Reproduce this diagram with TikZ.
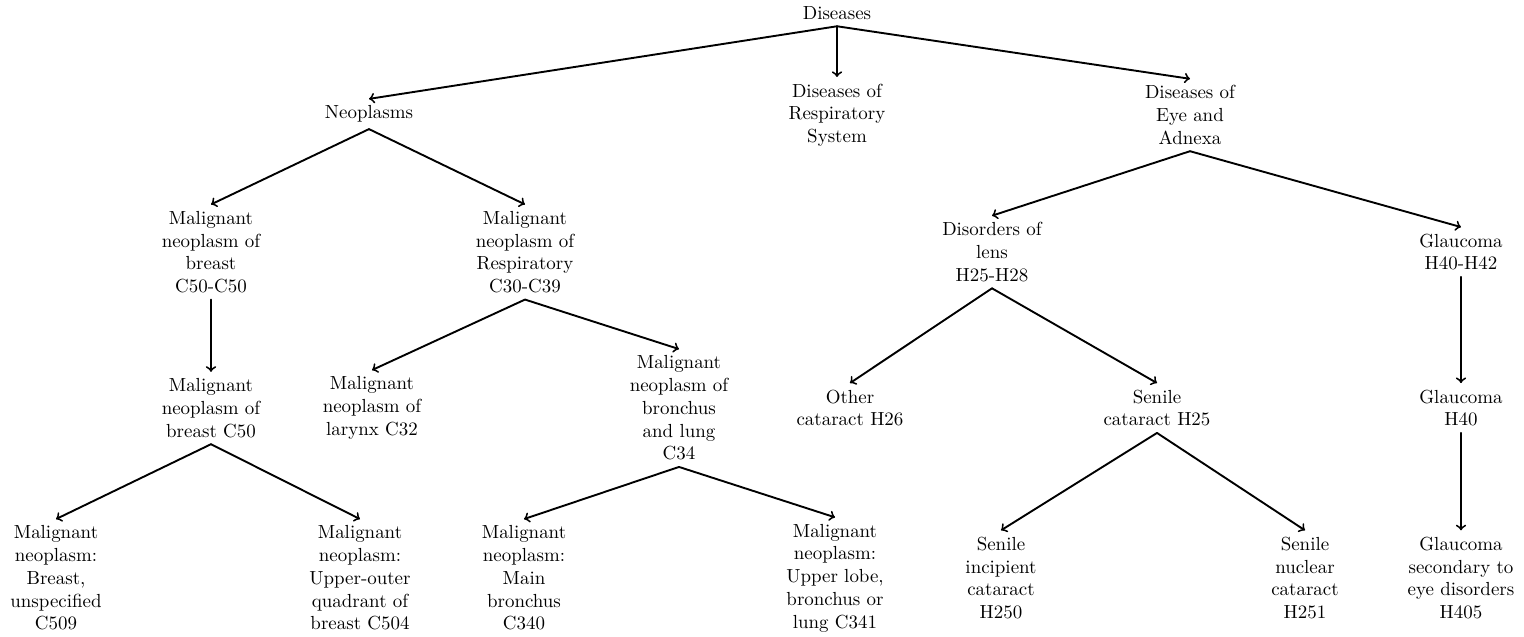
\documentclass[tikz,border=0pt]{standalone}
\begin{document}
\begin{tikzpicture}[x=0.528pt,y=-0.528pt,line join=round,line cap=round,>=to]
		\tikzset{cat/.style={align=center}, link/.style={->,line width=1pt}}
		\useasboundingbox (0,0) rectangle (1524,637);
		% top levels
		\node[cat] (dis) at (837,13) {Diseases};
		\node[cat] (neo) at (369,114) {Neoplasms};
		\node[cat] (resp) at (837,115) {Diseases of\\Respiratory\\System};
		\node[cat] (eye) at (1190,115) {Diseases of\\Eye and\\Adnexa};
		\node[cat] (brst) at (211,252) {Malignant\\neoplasm of\\breast\\C50-C50};
		\node[cat] (rspc) at (525,252) {Malignant\\neoplasm of\\Respiratory\\C30-C39};
		\node[cat] (lens) at (992,252) {Disorders of\\lens\\H25-H28};
		\node[cat] (glc) at (1461,252) {Glaucoma\\H40-H42};
		% third level
		\node[cat] (brstc) at (211,408) {Malignant\\neoplasm of\\breast C50};
		\node[cat] (lar) at (372,408) {Malignant\\neoplasm of\\larynx C32};
		\node[cat] (lung) at (679,408) {Malignant\\neoplasm of\\bronchus\\and lung\\C34};
		\node[cat] (oth) at (850,408) {Other\\cataract H26};
		\node[cat] (sen) at (1157,408) {Senile\\cataract H25};
		\node[cat] (glch) at (1461,408) {Glaucoma\\H40};
		% leaves
		\node[cat] (unsp) at (56,578) {Malignant\\neoplasm:\\Breast,\\unspecified\\C509};
		\node[cat] (uoq) at (360,578) {Malignant\\neoplasm:\\Upper-outer\\quadrant of\\breast C504};
		\node[cat] (mainb) at (524,578) {Malignant\\neoplasm:\\Main\\bronchus\\C340};
		\node[cat] (upl) at (835,578) {Malignant\\neoplasm:\\Upper lobe,\\bronchus or\\lung C341};
		\node[cat] (inc) at (1001,578) {Senile\\incipient\\cataract\\H250};
		\node[cat] (nuc) at (1305,578) {Senile\\nuclear\\cataract\\H251};
		\node[cat] (sec) at (1461,578) {Glaucoma\\secondary to\\eye disorders\\H405};
		% edges
		\foreach \p/\c in {dis/neo,dis/resp,dis/eye,neo/brst,neo/rspc,brst/brstc,rspc/lar,rspc/lung,
			brstc/unsp,brstc/uoq,lung/mainb,lung/upl,eye/lens,eye/glc,lens/oth,lens/sen,sen/inc,sen/nuc,
			glc/glch,glch/sec}
			\draw[link] (\p.south) -- (\c.north);
		\end{tikzpicture}
\end{document}
